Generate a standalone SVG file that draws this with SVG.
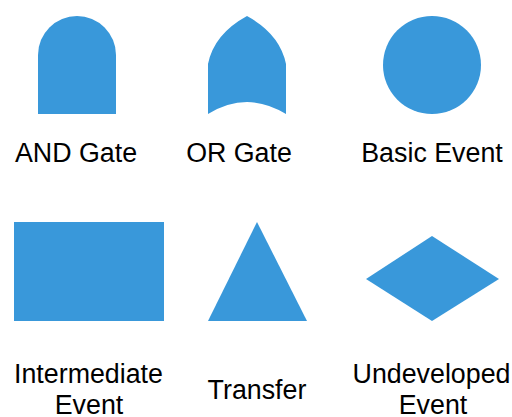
<svg xmlns="http://www.w3.org/2000/svg" width="512" height="417" viewBox="0 0 512 417">
  <style>
    .shape { fill: #3998DA; stroke: none; }
    .label { font-family: "Liberation Sans", Arial, sans-serif; font-size: 26.8px; fill: #000; text-anchor: middle; }
  </style>
  <rect width="512" height="417" fill="#ffffff"/>

  <!-- Fault tree symbol legend -->
  <g id="and-gate">
    <path class="shape" d="M38,114 L38,55 A39,39 0 0 1 116,55 L116,114 Z"/>
    <text class="label" x="76" y="162">AND Gate</text>
  </g>

  <g id="or-gate">
    <path class="shape" d="M247,16 Q214,34 208,64 L208,114 Q247,90 286,114 L286,64 Q280,34 247,16 Z"/>
    <text class="label" x="239" y="162">OR Gate</text>
  </g>

  <g id="basic-event">
    <circle class="shape" cx="432" cy="65" r="49"/>
    <text class="label" x="432" y="162">Basic Event</text>
  </g>

  <g id="intermediate-event">
    <rect class="shape" x="14" y="222" width="150" height="99"/>
    <text class="label" x="88.5" y="383">Intermediate</text>
    <text class="label" x="89" y="414">Event</text>
  </g>

  <g id="transfer">
    <polygon class="shape" points="257,222 307,321 208,321"/>
    <text class="label" x="257" y="399">Transfer</text>
  </g>

  <g id="undeveloped-event">
    <polygon class="shape" points="432,236 499,279 432,321 366,279"/>
    <text class="label" x="431.5" y="383">Undeveloped</text>
    <text class="label" x="433" y="414">Event</text>
  </g>

  <g id="connectors"/>
</svg>
